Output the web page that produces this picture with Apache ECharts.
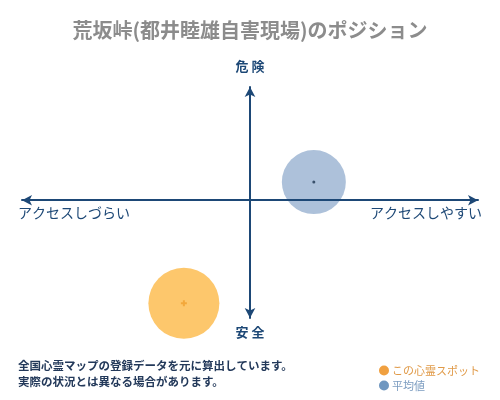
<!DOCTYPE html>
<html>
<head>
<meta charset="utf-8">
<script src="https://cdn.jsdelivr.net/npm/echarts@6/dist/echarts.min.js"></script>
<style>
  html, body { margin: 0; padding: 0; background: #fff; }
  #chart { width: 500px; height: 400px; }
</style>
</head>
<body>
<div id="chart"></div>
<script>
// 位置データ（x: アクセス, y: 危険度）
var seriesNames = ['この心霊スポット', '平均値'];
var spotPoint = [-29, -91];
var avgPoint = [28, 16];

var axisLabels = {
    top: '危 険',
    bottom: '安 全',
    left: 'アクセスしづらい',
    right: 'アクセスしやすい'
};
var noteLines = [
    '全国心霊マップの登録データを元に算出しています。',
    '実際の状況とは異なる場合があります。'
];

var font = '"Noto Sans CJK JP", "Noto Sans", sans-serif';
var navy = '#1d4876';

var chart = echarts.init(document.getElementById('chart'));

var option = {
    backgroundColor: '#fff',
    animation: false,
    title: {
        text: '荒坂峠(都井睦雄自害現場)のポジション',
        left: 'center',
        top: 15,
        textStyle: {
            fontFamily: font,
            fontSize: 20,
            fontWeight: 'bold',
            color: '#8c8c8c'
        }
    },
    grid: {
        left: 22,
        right: 22,
        top: 87,
        bottom: 82
    },
    xAxis: {
        type: 'value',
        min: -100,
        max: 100,
        z: 5,
        splitLine: { show: false },
        axisTick: { show: false },
        axisLabel: { show: false },
        axisLine: {
            onZero: true,
            symbol: ['arrow', 'arrow'],
            symbolSize: [8, 10],
            lineStyle: { color: navy, width: 2 }
        }
    },
    yAxis: {
        type: 'value',
        min: -104,
        max: 100,
        z: 5,
        splitLine: { show: false },
        axisTick: { show: false },
        axisLabel: { show: false },
        axisLine: {
            onZero: true,
            symbol: ['arrow', 'arrow'],
            symbolSize: [8, 10],
            lineStyle: { color: navy, width: 2 }
        }
    },
    legend: {
        orient: 'vertical',
        left: 374,
        top: 360,
        itemGap: 4,
        itemWidth: 10,
        itemHeight: 10,
        icon: 'circle',
        data: [
            { name: seriesNames[0], itemStyle: { color: '#f0a040' }, textStyle: { color: '#e09a48' } },
            { name: seriesNames[1], itemStyle: { color: '#6f97c0' }, textStyle: { color: '#7b9cc0' } }
        ],
        textStyle: { fontFamily: font, fontSize: 11, padding: [0, 0, 0, -2] }
    },
    series: [
        {
            name: seriesNames[0],
            type: 'scatter',
            symbolSize: 71,
            itemStyle: { color: '#fdc76c', opacity: 1 },
            data: [spotPoint],
            z: 2
        },
        {
            name: seriesNames[1],
            type: 'scatter',
            symbolSize: 64,
            itemStyle: { color: '#adc1da', opacity: 1 },
            data: [avgPoint],
            z: 2
        },
        {
            name: 'spotCenter',
            type: 'scatter',
            symbol: 'path://M2,0H4V2H6V4H4V6H2V4H0V2H2Z',
            symbolSize: 6,
            itemStyle: { color: '#f0a030' },
            data: [spotPoint],
            z: 3
        },
        {
            name: 'avgCenter',
            type: 'scatter',
            symbolSize: 3,
            itemStyle: { color: '#1d3550' },
            data: [avgPoint],
            z: 3
        }
    ],
    graphic: [
        {
            type: 'text', left: 'center', top: 60,
            style: { text: axisLabels.top, fill: navy, font: 'bold 13px ' + font }
        },
        {
            type: 'text', left: 'center', top: 326,
            style: { text: axisLabels.bottom, fill: navy, font: 'bold 13px ' + font }
        },
        {
            type: 'text', left: 18, top: 206,
            style: { text: axisLabels.left, fill: navy, font: '14px ' + font }
        },
        {
            type: 'text', right: 18, top: 206,
            style: { text: axisLabels.right, fill: navy, font: '14px ' + font }
        },
        {
            type: 'text', left: 18, top: 360,
            style: { text: noteLines[0], fill: '#23395a', font: 'bold 11.5px ' + font }
        },
        {
            type: 'text', left: 18, top: 376,
            style: { text: noteLines[1], fill: '#23395a', font: 'bold 11.5px ' + font }
        }
    ]
};

chart.setOption(option);
</script>
</body>
</html>
